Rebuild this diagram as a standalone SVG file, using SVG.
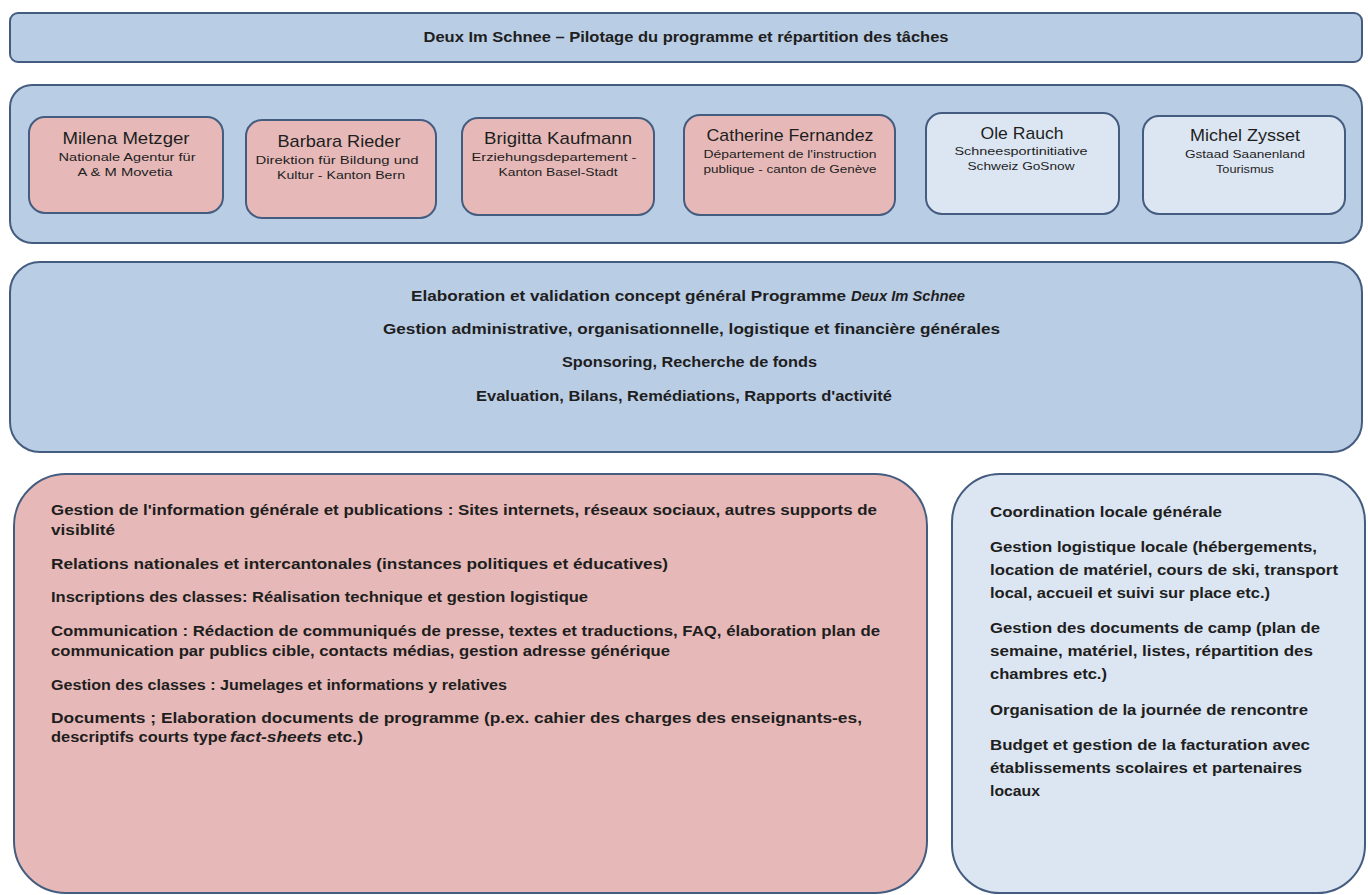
<svg xmlns="http://www.w3.org/2000/svg" width="1368" height="895" viewBox="0 0 1368 895">
<style>
.bl{fill:#B9CDE5;stroke:#435C7F;stroke-width:2}
.pk{fill:#E6B9B8;stroke:#435C7F;stroke-width:2}
.lb{fill:#DCE6F2;stroke:#435C7F;stroke-width:2}
text{font-family:"Liberation Sans",Arial,sans-serif;fill:#1E1E1E}
.b{font-weight:bold;font-size:14px}
.i{font-style:italic}
.nm{font-size:17px;text-anchor:middle}
.sb{font-size:10.5px;text-anchor:middle}
.c{text-anchor:middle}
</style>
<rect width="1368" height="895" fill="#FFFFFF"/>
<g id="title">
<rect class="bl" x="10" y="13" width="1352" height="49" rx="8"/>
<text class="b c" x="686" y="42" textLength="525" lengthAdjust="spacingAndGlyphs">Deux Im Schnee – Pilotage du programme et répartition des tâches</text>
</g>
<g id="team">
<rect class="bl" x="10" y="85" width="1352" height="158" rx="22"/>
</g>
<g id="milena">
<rect class="pk" x="29" y="117" width="194" height="96" rx="16"/>
<text class="nm" x="126" y="144" textLength="127" lengthAdjust="spacingAndGlyphs">Milena Metzger</text>
<text class="sb" x="127" y="161" textLength="137" lengthAdjust="spacingAndGlyphs">Nationale Agentur für</text>
<text class="sb" x="125" y="176" textLength="95" lengthAdjust="spacingAndGlyphs">A &amp; M Movetia</text>
</g>
<g id="barbara">
<rect class="pk" x="246" y="120" width="190" height="98" rx="16"/>
<text class="nm" x="339" y="147" textLength="123" lengthAdjust="spacingAndGlyphs">Barbara Rieder</text>
<text class="sb" x="337" y="164" textLength="163" lengthAdjust="spacingAndGlyphs">Direktion für Bildung und</text>
<text class="sb" x="341" y="179" textLength="128" lengthAdjust="spacingAndGlyphs">Kultur - Kanton Bern</text>
</g>
<g id="brigitta">
<rect class="pk" x="462" y="118" width="192" height="97" rx="16"/>
<text class="nm" x="558" y="144" textLength="148" lengthAdjust="spacingAndGlyphs">Brigitta Kaufmann</text>
<text class="sb" x="554" y="161" textLength="165" lengthAdjust="spacingAndGlyphs">Erziehungsdepartement -</text>
<text class="sb" x="558" y="176" textLength="119" lengthAdjust="spacingAndGlyphs">Kanton Basel-Stadt</text>
</g>
<g id="catherine">
<rect class="pk" x="684" y="115" width="211" height="100" rx="16"/>
<text class="nm" x="790" y="141" textLength="167" lengthAdjust="spacingAndGlyphs">Catherine Fernandez</text>
<text class="sb" x="790" y="158" textLength="173" lengthAdjust="spacingAndGlyphs">Département de l'instruction</text>
<text class="sb" x="790" y="173" textLength="173" lengthAdjust="spacingAndGlyphs">publique - canton de Genève</text>
</g>
<g id="ole">
<rect class="lb" x="926" y="113" width="193" height="101" rx="16"/>
<text class="nm" x="1022" y="139" textLength="83" lengthAdjust="spacingAndGlyphs">Ole Rauch</text>
<text class="sb" x="1021" y="155" textLength="133" lengthAdjust="spacingAndGlyphs">Schneesportinitiative</text>
<text class="sb" x="1021" y="170" textLength="107" lengthAdjust="spacingAndGlyphs">Schweiz  GoSnow</text>
</g>
<g id="michel">
<rect class="lb" x="1143" y="116" width="202" height="98" rx="16"/>
<text class="nm" x="1245" y="141" textLength="110" lengthAdjust="spacingAndGlyphs">Michel Zysset</text>
<text class="sb" x="1245" y="158" textLength="120" lengthAdjust="spacingAndGlyphs">Gstaad Saanenland</text>
<text class="sb" x="1245" y="173" textLength="58" lengthAdjust="spacingAndGlyphs">Tourismus</text>
</g>
<g id="general">
<rect class="bl" x="10" y="262" width="1352" height="190" rx="30"/>
<text class="b" x="411" y="301" textLength="435" lengthAdjust="spacingAndGlyphs">Elaboration et validation concept général Programme</text>
<text class="b i" x="851" y="301" textLength="114" lengthAdjust="spacingAndGlyphs">Deux Im Schnee</text>
<text class="b" x="383" y="334" textLength="617" lengthAdjust="spacingAndGlyphs">Gestion administrative, organisationnelle, logistique et financière générales</text>
<text class="b" x="562" y="367" textLength="255" lengthAdjust="spacingAndGlyphs">Sponsoring, Recherche de fonds</text>
<text class="b" x="476" y="401" textLength="416" lengthAdjust="spacingAndGlyphs">Evaluation, Bilans, Remédiations, Rapports d'activité</text>
</g>
<g id="national">
<rect class="pk" x="14" y="474" width="913" height="419" rx="52"/>
<text class="b" x="51" y="515" textLength="826" lengthAdjust="spacingAndGlyphs">Gestion de l'information  générale et publications : Sites internets, réseaux sociaux, autres supports de</text>
<text class="b" x="51" y="535" textLength="64" lengthAdjust="spacingAndGlyphs">visiblité</text>
<text class="b" x="51" y="569" textLength="617" lengthAdjust="spacingAndGlyphs">Relations nationales et intercantonales (instances politiques et éducatives)</text>
<text class="b" x="51" y="602" textLength="537" lengthAdjust="spacingAndGlyphs">Inscriptions des classes: Réalisation technique et gestion logistique</text>
<text class="b" x="51" y="636" textLength="829" lengthAdjust="spacingAndGlyphs">Communication : Rédaction de communiqués de presse, textes et traductions, FAQ, élaboration plan de</text>
<text class="b" x="51" y="656" textLength="619" lengthAdjust="spacingAndGlyphs">communication par publics cible, contacts médias, gestion adresse générique</text>
<text class="b" x="51" y="690" textLength="456" lengthAdjust="spacingAndGlyphs">Gestion des classes : Jumelages et informations y relatives</text>
<text class="b" x="51" y="723" textLength="811" lengthAdjust="spacingAndGlyphs">Documents ; Elaboration documents de programme (p.ex. cahier des charges des enseignants-es,</text>
<text class="b" x="51" y="742" textLength="176" lengthAdjust="spacingAndGlyphs">descriptifs courts  type</text>
<text class="b i" x="230" y="742" textLength="92" lengthAdjust="spacingAndGlyphs">fact-sheets</text>
<text class="b" x="327" y="742" textLength="36" lengthAdjust="spacingAndGlyphs">etc.)</text>
</g>
<g id="local">
<rect class="lb" x="952" y="474" width="413" height="419" rx="48"/>
<text class="b" x="990" y="517" textLength="232" lengthAdjust="spacingAndGlyphs">Coordination  locale générale</text>
<text class="b" x="990" y="552" textLength="327" lengthAdjust="spacingAndGlyphs">Gestion logistique locale (hébergements,</text>
<text class="b" x="990" y="575" textLength="348" lengthAdjust="spacingAndGlyphs">location de matériel, cours de ski, transport</text>
<text class="b" x="990" y="598" textLength="280" lengthAdjust="spacingAndGlyphs">local, accueil et suivi sur place etc.)</text>
<text class="b" x="990" y="633" textLength="330" lengthAdjust="spacingAndGlyphs">Gestion des documents de camp (plan de</text>
<text class="b" x="990" y="656" textLength="323" lengthAdjust="spacingAndGlyphs">semaine, matériel, listes, répartition des</text>
<text class="b" x="990" y="679" textLength="117" lengthAdjust="spacingAndGlyphs">chambres etc.)</text>
<text class="b" x="990" y="715" textLength="318" lengthAdjust="spacingAndGlyphs">Organisation de la journée de rencontre</text>
<text class="b" x="990" y="750" textLength="320" lengthAdjust="spacingAndGlyphs">Budget et gestion de la facturation avec</text>
<text class="b" x="990" y="773" textLength="312" lengthAdjust="spacingAndGlyphs">établissements scolaires et partenaires</text>
<text class="b" x="990" y="796" textLength="50" lengthAdjust="spacingAndGlyphs">locaux</text>
</g>
</svg>
